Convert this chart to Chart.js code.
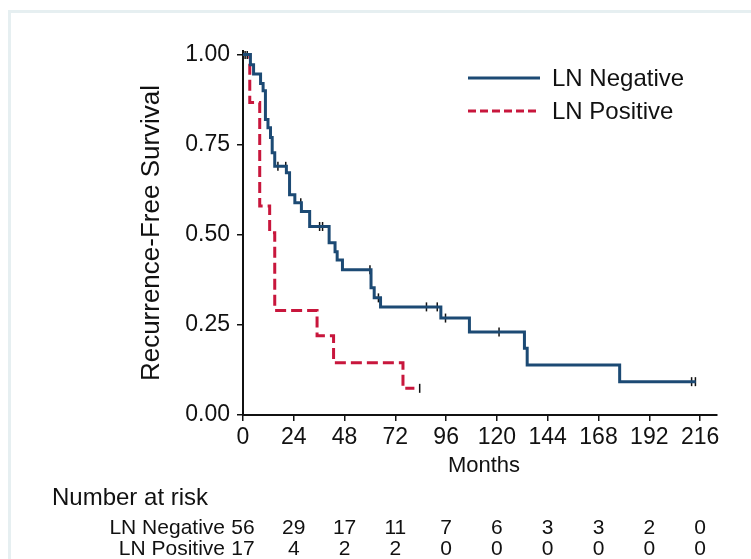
<!DOCTYPE html>
<html>
<head>
<meta charset="utf-8">
<script src="https://cdn.jsdelivr.net/npm/chart.js@4.4.1/dist/chart.umd.min.js"></script>
<style>
  html, body { margin: 0; padding: 0; background: #fff; }
  #frame { position: absolute; left: 8px; top: 10px; width: 743px; height: 549px;
           border-top: 3px solid #e6eff1; border-left: 3px solid #e6eff1; box-sizing: border-box; }
  #km { position: absolute; left: 0; top: 0; }
</style>
</head>
<body>
<div id="frame"></div>
<canvas id="km" width="751" height="559"></canvas>
<script>
// ---- data ----
const xTicks = [0, 24, 48, 72, 96, 120, 144, 168, 192, 216];
const yTicks = [0, 0.25, 0.5, 0.75, 1.0];

// LN Negative: time of each drop (months) and survival after it
const negTimes = [0, 3.5, 5, 8.3, 9.5, 10.6, 11.8, 13, 13.8, 15, 20.5, 22, 24.5, 27.6, 31.5,
                  40.7, 43.5, 44.5, 47, 60.5, 62, 65, 93.5, 107, 133, 134.3, 178, 214];
const negSurv  = [1.0, 0.972, 0.946, 0.92, 0.90, 0.82, 0.797, 0.77, 0.728, 0.69, 0.672, 0.611, 0.589, 0.565, 0.523,
                  0.478, 0.453, 0.43, 0.403, 0.353, 0.325, 0.30, 0.269, 0.23, 0.185, 0.139, 0.0925, 0.0925];
const negCensorTimes = [1, 2, 16.5, 20.2, 27.3, 36.2, 37.6, 60, 64, 86.7, 91.8, 95.7, 121, 212, 213.8];
const negCensorSurv  = [1.0, 1.0, 0.69, 0.69, 0.589, 0.523, 0.523, 0.403, 0.325, 0.30, 0.30, 0.269, 0.23, 0.0925, 0.0925];

// LN Positive
const posTimes = [0, 3.2, 7.9, 12.6, 15, 35, 42.8, 75.6, 81];
const posSurv  = [1.0, 0.867, 0.58, 0.506, 0.29, 0.22, 0.145, 0.074, 0.074];
const posCensorTimes = [83.5];
const posCensorSurv  = [0.074];

// number at risk table
const riskGroups = ['LN Negative', 'LN Positive'];
const riskNeg = [56, 29, 17, 11, 7, 6, 3, 3, 2, 0];
const riskPos = [17, 4, 2, 2, 0, 0, 0, 0, 0, 0];

const BLUE = '#1c4a74';
const RED = '#c8163c';
const INK = '#111';
const FONT = "'Liberation Sans', Arial, sans-serif";

const pts = (xs, ys) => xs.map((x, i) => ({ x: x, y: ys[i] }));

// legend + risk table + x title, drawn on top of the chart
const extras = {
  id: 'extras',
  afterDraw(chart) {
    const ctx = chart.ctx;
    const xs = chart.scales.x;
    ctx.save();
    ctx.fillStyle = INK;
    ctx.textBaseline = 'middle';

    // legend
    ctx.lineWidth = 3;
    ctx.strokeStyle = BLUE;
    ctx.setLineDash([]);
    ctx.beginPath(); ctx.moveTo(468, 78); ctx.lineTo(540, 78); ctx.stroke();
    ctx.strokeStyle = RED;
    ctx.setLineDash([8, 4]);
    ctx.beginPath(); ctx.moveTo(468, 111); ctx.lineTo(540, 111); ctx.stroke();
    ctx.setLineDash([]);
    ctx.font = '24px ' + FONT;
    ctx.textAlign = 'left';
    ctx.fillText('LN Negative', 552, 79);
    ctx.fillText('LN Positive', 552, 112);

    // x title, centred under the ticks
    ctx.textAlign = 'center';
    ctx.font = '22px ' + FONT;
    ctx.fillText('Months', 484, 466);

    // number at risk
    ctx.textAlign = 'left';
    ctx.font = '24px ' + FONT;
    ctx.fillText('Number at risk', 52, 498);
    ctx.font = '21px ' + FONT;
    ctx.textAlign = 'right';
    ctx.fillText(riskGroups[0], 225, 528);
    ctx.fillText(riskGroups[1], 225, 549);
    ctx.textAlign = 'center';
    xTicks.forEach((t, i) => {
      const px = xs.getPixelForValue(t);
      ctx.fillText(String(riskNeg[i]), px, 528);
      ctx.fillText(String(riskPos[i]), px, 549);
    });
    ctx.restore();
  }
};

const axisGrid = { drawOnChartArea: false, drawTicks: true, tickLength: 6, color: INK, lineWidth: 1.5 };

new Chart(document.getElementById('km'), {
  type: 'line',
  data: {
    datasets: [
      { label: 'LN Negative', data: pts(negTimes, negSurv), stepped: 'before',
        borderColor: BLUE, borderWidth: 3, pointRadius: 0, fill: false },
      { label: 'LN Positive', data: pts(posTimes, posSurv), stepped: 'before',
        borderColor: RED, borderWidth: 3, borderDash: [11, 5], pointRadius: 0, fill: false },
      { type: 'scatter', label: 'censored neg', data: pts(negCensorTimes, negCensorSurv),
        pointStyle: 'line', rotation: 90, pointRadius: 4.5, borderColor: INK, borderWidth: 1.5, showLine: false },
      { type: 'scatter', label: 'censored pos', data: pts(posCensorTimes, posCensorSurv),
        pointStyle: 'line', rotation: 90, pointRadius: 4.5, borderColor: INK, borderWidth: 1.5, showLine: false }
    ]
  },
  options: {
    responsive: false,
    animation: false,
    devicePixelRatio: 1,
    layout: { padding: { left: 132, top: 51, right: 34, bottom: 76 } },
    plugins: { legend: { display: false }, tooltip: { enabled: false } },
    scales: {
      x: {
        type: 'linear', min: 0, max: 224,
        afterBuildTicks: s => { s.ticks = xTicks.map(v => ({ value: v })); },
        afterFit: s => { s.height = 68; },
        ticks: { color: INK, font: { family: FONT, size: 23 }, padding: 3, maxRotation: 0, autoSkip: false },
        grid: axisGrid,
        border: { color: INK, width: 2 },
        title: { display: false }
      },
      y: {
        type: 'linear', min: 0, max: 1.01,
        afterBuildTicks: s => { s.ticks = yTicks.map(v => ({ value: v })); },
        afterFit: s => { s.width = 111; },
        ticks: { color: INK, font: { family: FONT, size: 23 }, padding: 7,
                 callback: v => Number(v).toFixed(2) },
        grid: axisGrid,
        border: { color: INK, width: 2 },
        title: { display: true, text: 'Recurrence-Free Survival', color: INK,
                 font: { family: FONT, size: 26 }, padding: { top: 4, bottom: 0 } }
      }
    }
  },
  plugins: [extras]
});
</script>
</body>
</html>
